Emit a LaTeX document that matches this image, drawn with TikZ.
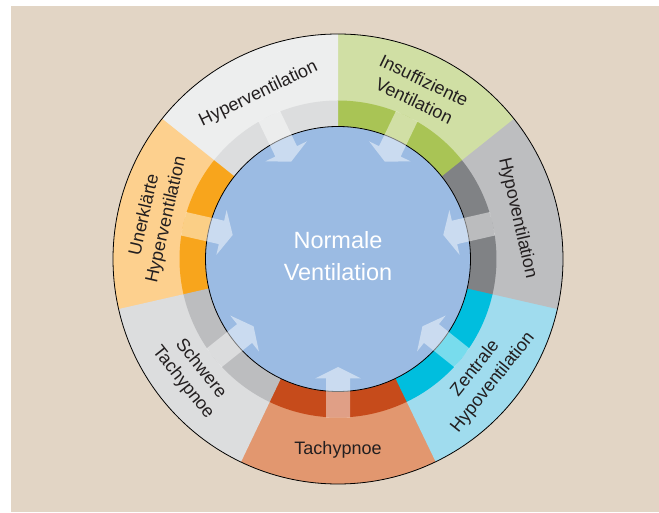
\documentclass[tikz,border=0pt]{standalone}
\usepackage{fontspec}
\setmainfont{Liberation Sans}
\usetikzlibrary{calc}
\definecolor{bgbeige}{HTML}{E2D5C5}
\definecolor{cblue}{HTML}{9BBBE3}
\definecolor{labeltext}{HTML}{231F20}
\definecolor{hypO}{HTML}{EDEEEE}\definecolor{hypB}{HTML}{DCDDDE}
\definecolor{insO}{HTML}{D0DFA4}\definecolor{insB}{HTML}{A9C455}
\definecolor{hvoO}{HTML}{BDBEC0}\definecolor{hvoB}{HTML}{808285}
\definecolor{zenO}{HTML}{A0DCEE}\definecolor{zenB}{HTML}{00BEDE}
\definecolor{tacO}{HTML}{E2976F}\definecolor{tacB}{HTML}{C64B1B}
\definecolor{schO}{HTML}{DCDDDE}\definecolor{schB}{HTML}{BCBDBF}
\definecolor{uneO}{HTML}{FDD08E}\definecolor{uneB}{HTML}{F8A51C}
\begin{document}
\begin{tikzpicture}[x=1pt,y=1pt,
  lbl/.style={font=\fontsize{18}{22.5}\selectfont, text=labeltext, inner sep=0pt, align=center},
  ctr/.style={font=\fontsize{23.5}{32}\selectfont, text=white, inner sep=0pt, anchor=base},
  arrowshape/.style={fill=white, fill opacity=0.47},
  rim/.style={draw=black, line width=0.8pt}]
\useasboundingbox (0,0) rectangle (659,512);
\fill[white] (0,0) rectangle (659,512);
\fill[bgbeige] (11,0) rectangle (659,506);
\coordinate (C) at (338,253);
% outer sectors
\foreach \a/\oc in {-115.714/tacO,-64.286/zenO,-12.857/hvoO,38.571/insO,90/hypO,141.429/uneO,192.857/schO}
  \fill[\oc] (C) -- ++(\a:225) arc[start angle=\a, delta angle=51.6, radius=225] -- cycle;
% band sectors
\foreach \a/\bc in {-115.714/tacB,-64.286/zenB,-12.857/hvoB,38.571/insB,90/hypB,141.429/uneB,192.857/schB}
  \fill[\bc] (C) -- ++(\a:158.5) arc[start angle=\a, delta angle=51.6, radius=158.5] -- cycle;
\draw[rim] (C) circle[radius=225];
\filldraw[rim, fill=cblue] (C) circle[radius=132.5];
% arrows
\foreach \t in {-90,-38.571,12.857,64.286,115.714,167.143,218.571}
  \fill[arrowshape, shift={(338,253)}, rotate=\t]
    (108,0) -- (119.5,23) -- (119.5,12) -- (158.5,12) -- (158.5,-12) -- (119.5,-12) -- (119.5,-23) -- cycle;
% labels
\node[lbl, rotate=0] (tach) at ($(C)+(-90:191)$) {Tachypnoe};
\node[lbl, rotate=51.43] (zent) at ($(C)+(-38.571:187)$) {Zentrale\\Hypoventilation};
\node[lbl, rotate=-77.14] (hypo) at ($(C)+(12.857:184)$) {Hypoventilation};
\node[lbl, rotate=-25.71] (insuf) at ($(C)+(64.286:187)$) {Insuffiziente\\Ventilation};
\node[lbl, rotate=25.71] (hyper) at ($(C)+(115.714:183)$) {Hyperventilation};
\node[lbl, rotate=77.14] (unerk) at ($(C)+(167.143:187)$) {Unerklärte\\Hyperventilation};
\node[lbl, rotate=-51.43] (schw) at ($(C)+(218.571:187)$) {Schwere\\Tachypnoe};
\node[ctr] (norm1) at (338,263.7) {Normale};
\node[ctr] (norm2) at (338,231.3) {Ventilation};
\end{tikzpicture}
\end{document}
